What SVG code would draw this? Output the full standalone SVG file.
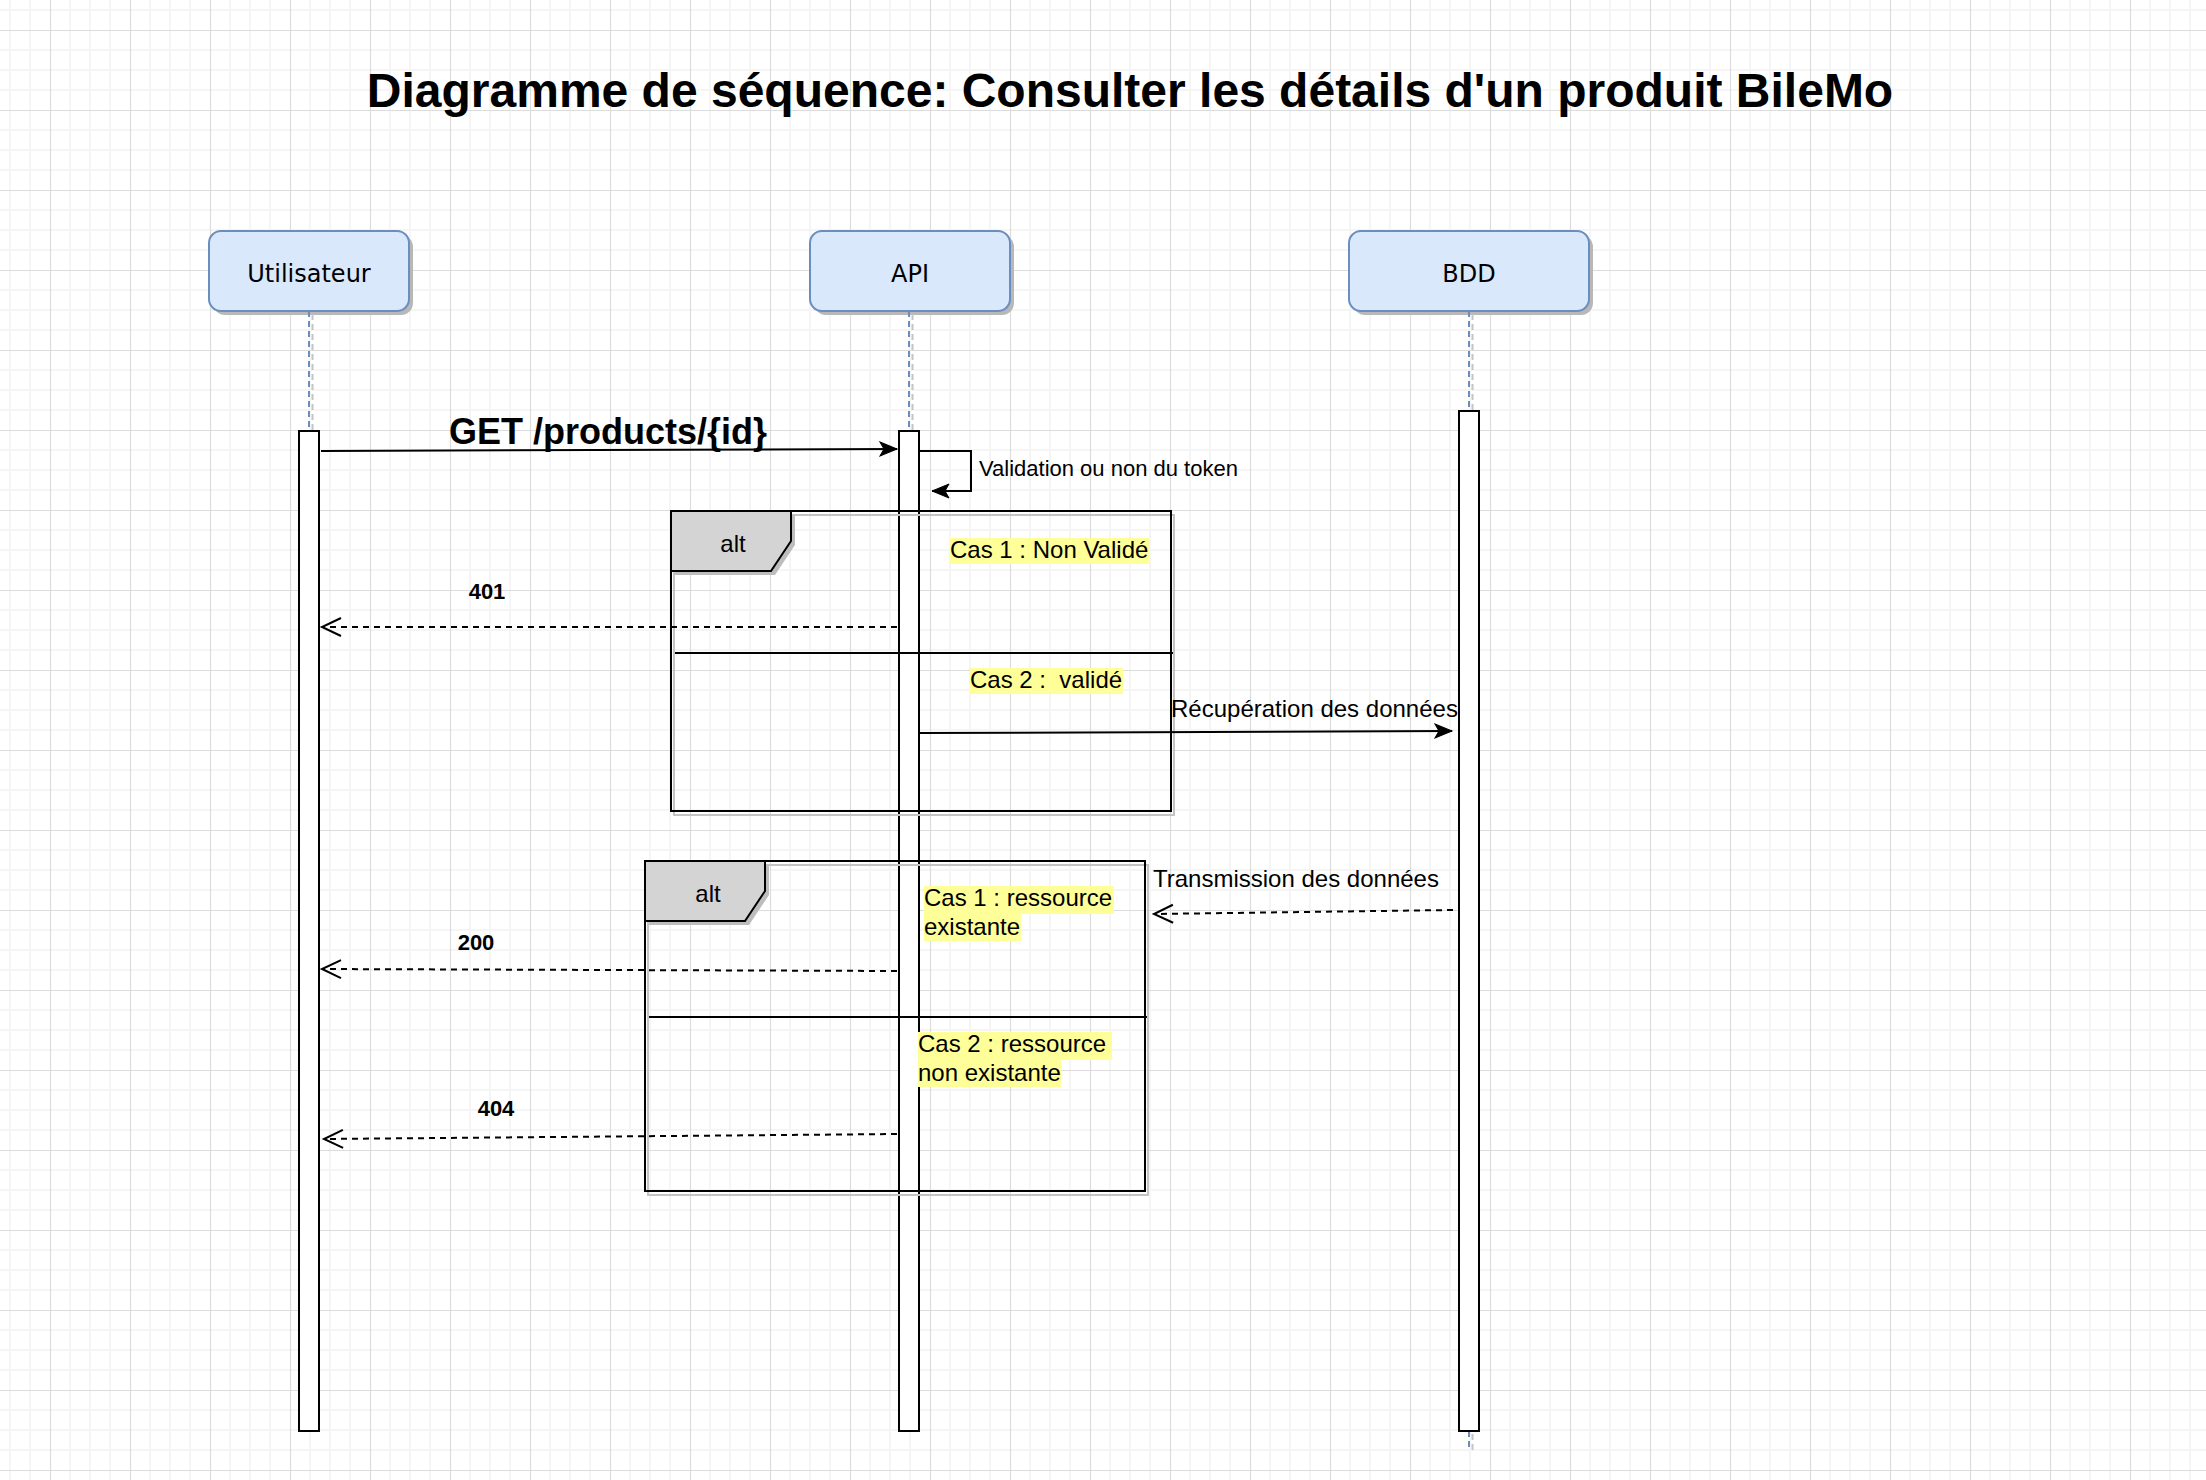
<svg xmlns="http://www.w3.org/2000/svg" width="2206" height="1480" viewBox="0 0 2206 1480">
<defs>
  <pattern id="grid" width="80" height="80" patternUnits="userSpaceOnUse">
    <path d="M10,0V80M30,0V80M70,0V80M0,10H80M0,50H80M0,70H80" stroke="#f5f5f5" stroke-width="2" fill="none"/>
    <path d="M50.5,0V80M0,30.5H80" stroke="#dcdcdc" stroke-width="1.2" fill="none"/>
  </pattern>
  <marker id="block" markerUnits="userSpaceOnUse" markerWidth="20" markerHeight="16" refX="17" refY="7" orient="auto" overflow="visible">
    <path d="M0,0 L17,7 L0,14 L4,7 Z" fill="#000" stroke="#000" stroke-width="1" stroke-linejoin="miter"/>
  </marker>
  <marker id="open" markerUnits="userSpaceOnUse" markerWidth="22" markerHeight="22" refX="20" refY="10" orient="auto" overflow="visible">
    <path d="M1,1 L20,10 L1,19" fill="none" stroke="#000" stroke-width="2" stroke-dasharray="none"/>
  </marker>
</defs>
<style>
  .head { fill: #dae8fc; stroke: #6c8ebf; stroke-width: 2; }
  .headshadow { fill: #b8b8b8; stroke: none; }
  .headlabel { font-family: "DejaVu Sans", Verdana, sans-serif; font-size: 24px; fill: #000; text-anchor: middle; }
  .life { stroke: #6c8ebf; stroke-width: 2; stroke-dasharray: 6 4; fill: none; }
  .lifeshadow { stroke: #c4c4c4; stroke-width: 2; stroke-dasharray: 6 4; fill: none; }
  .act { fill: #fff; stroke: #000; stroke-width: 2; }
  .frame { fill: none; stroke: #000; stroke-width: 2; }
  .frameshadow { fill: none; stroke: #c4c4c4; stroke-width: 2; }
  .tab { fill: #d4d4d4; stroke: #000; stroke-width: 2; }
  .tabshadow { fill: #bdbdbd; stroke: none; }
  .msg { stroke: #000; stroke-width: 2; fill: none; }
  .ret { stroke: #000; stroke-width: 2; fill: none; stroke-dasharray: 6 5; }
  .lbl { font-family: "Liberation Sans", Arial, sans-serif; font-size: 24px; fill: #000; white-space: pre; }
  .small { font-size: 22px; }
  .code { font-family: "Liberation Sans", Arial, sans-serif; font-size: 22px; font-weight: bold; fill: #000; text-anchor: middle; }
  .hl { fill: #ffff99; }
  .title { font-family: "Liberation Sans", Arial, sans-serif; font-size: 48px; font-weight: bold; fill: #000; text-anchor: middle; }
</style>
<rect width="2206" height="1480" fill="#ffffff"/>
<rect width="2206" height="1480" fill="url(#grid)"/>

<text class="title" x="1130" y="107">Diagramme de séquence: Consulter les détails d'un produit BileMo</text>

<g id="utilisateur">
  <rect class="headshadow" x="213" y="235" width="200" height="80" rx="12"/>
  <rect class="head" x="209" y="231" width="200" height="80" rx="12"/>
  <text class="headlabel" x="309" y="282">Utilisateur</text>
  <line class="lifeshadow" x1="312.5" y1="314" x2="312.5" y2="437"/>
  <line class="life" x1="309" y1="311" x2="309" y2="431"/>
  <rect class="act" x="299" y="431" width="20" height="1000"/>
</g>

<g id="api">
  <rect class="headshadow" x="814" y="235" width="200" height="80" rx="12"/>
  <rect class="head" x="810" y="231" width="200" height="80" rx="12"/>
  <text class="headlabel" x="910" y="282">API</text>
  <line class="lifeshadow" x1="912.5" y1="314" x2="912.5" y2="437"/>
  <line class="life" x1="909" y1="311" x2="909" y2="431"/>
  <rect class="act" x="899" y="431" width="20" height="1000"/>
</g>

<g id="bdd">
  <rect class="headshadow" x="1353" y="235" width="240" height="80" rx="12"/>
  <rect class="head" x="1349" y="231" width="240" height="80" rx="12"/>
  <text class="headlabel" x="1469" y="282">BDD</text>
  <line class="lifeshadow" x1="1472.5" y1="314" x2="1472.5" y2="1452"/>
  <line class="life" x1="1469" y1="311" x2="1469" y2="1449"/>
  <rect class="act" x="1459" y="411" width="20" height="1020"/>
</g>

<g id="alt1">
  <rect class="frameshadow" x="674" y="515" width="500" height="300"/>
  <polygon class="tabshadow" points="675,515 795,515 795,545 775,575 675,575"/>
  <rect class="frame" x="671" y="511" width="500" height="300"/>
  <polygon class="tab" points="671,511 791,511 791,541 771,571 671,571"/>
  <text class="lbl" x="733" y="552" text-anchor="middle">alt</text>
  <line class="msg" x1="675" y1="653" x2="1173" y2="653"/>
  <rect class="hl" x="950" y="538" width="199" height="26"/>
  <text class="lbl" x="950" y="558">Cas 1 : Non Validé</text>
  <rect class="hl" x="970" y="668" width="153" height="26"/>
  <text class="lbl" x="970" y="688">Cas 2 :  validé</text>
</g>

<g id="alt2">
  <rect class="frameshadow" x="648" y="865" width="500" height="330"/>
  <polygon class="tabshadow" points="649,865 769,865 769,895 749,925 649,925"/>
  <rect class="frame" x="645" y="861" width="500" height="330"/>
  <polygon class="tab" points="645,861 765,861 765,891 745,921 645,921"/>
  <text class="lbl" x="708" y="902" text-anchor="middle">alt</text>
  <line class="msg" x1="649" y1="1017" x2="1147" y2="1017"/>
  <rect class="hl" x="924" y="886" width="190" height="28"/>
  <rect class="hl" x="924" y="914" width="97" height="27"/>
  <text class="lbl" x="924" y="906">Cas 1 : ressource</text>
  <text class="lbl" x="924" y="935">existante</text>
  <rect class="hl" x="918" y="1032" width="194" height="28"/>
  <rect class="hl" x="918" y="1060" width="143" height="27"/>
  <text class="lbl" x="918" y="1052">Cas 2 : ressource</text>
  <text class="lbl" x="918" y="1081">non existante</text>
</g>

<g id="connectors">
  <line class="msg" x1="321" y1="451" x2="897" y2="449" marker-end="url(#block)"/>
  <text class="lbl" x="608" y="444" text-anchor="middle" style="font-size:36px;font-weight:bold">GET /products/{id}</text>

  <polyline class="msg" points="919,451 971,451 971,491 932,491" marker-end="url(#block)"/>
  <text class="lbl small" x="979" y="476">Validation ou non du token</text>

  <line class="ret" x1="897" y1="627" x2="322" y2="627" marker-end="url(#open)"/>
  <text class="code" x="487" y="599">401</text>

  <line class="msg" x1="920" y1="733" x2="1452" y2="731" marker-end="url(#block)"/>
  <text class="lbl" x="1171" y="717">Récupération des données</text>

  <line class="ret" x1="1453" y1="910" x2="1154" y2="914" marker-end="url(#open)"/>
  <text class="lbl" x="1153" y="887">Transmission des données</text>

  <line class="ret" x1="897" y1="971" x2="322" y2="969" marker-end="url(#open)"/>
  <text class="code" x="476" y="950">200</text>

  <line class="ret" x1="897" y1="1134" x2="324" y2="1139" marker-end="url(#open)"/>
  <text class="code" x="496" y="1116">404</text>
</g>
</svg>
